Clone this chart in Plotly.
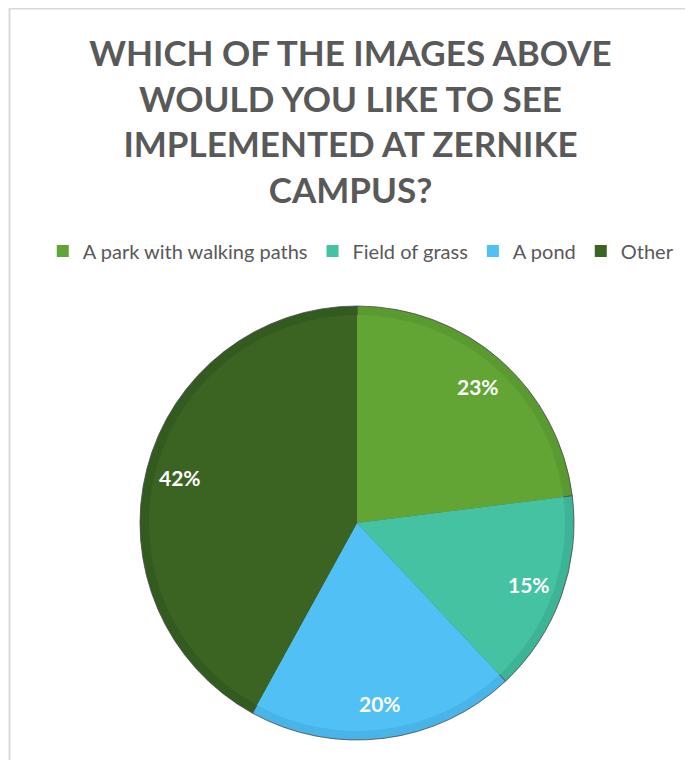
import math
import plotly.graph_objects as go

labels = ["A park with walking paths", "Field of grass", "A pond", "Other"]
values = [23, 15, 20, 42]
colors = ["#62A534", "#44C2A2", "#50C0F5", "#3B6423"]
edge_colors = ["#5A9A30", "#3DB495", "#48B4E8", "#345B1F"]

title_text = "WHICH OF THE IMAGES ABOVE<br>WOULD YOU LIKE TO SEE<br>IMPLEMENTED AT ZERNIKE<br>CAMPUS?"

# page has an 8px body margin, so the figure is drawn 8px in from the corner
W, H = 685, 752
cx, cy, R = 349, 515, 217  # pie centre / radius in px

def dom(r):
    return dict(x=[(cx - r) / W, (cx + r) / W], y=[1 - (cy + r) / H, 1 - (cy - r) / H])

fig = go.Figure()

# outer (darker rim)
fig.add_trace(go.Pie(
    labels=labels, values=values, sort=False, direction="clockwise", rotation=0,
    marker=dict(colors=edge_colors, line=dict(color="#4A4A4A", width=0.8)),
    textinfo="none", hoverinfo="skip", showlegend=False, domain=dom(R)
))

# inner face
fig.add_trace(go.Pie(
    labels=labels, values=values, sort=False, direction="clockwise", rotation=0,
    marker=dict(colors=colors, line=dict(width=0)),
    textinfo="none", showlegend=True, domain=dom(R - 9)
))

# percentage labels placed out toward the rim like Excel's best fit
total = sum(values)
cum = 0
for v in values:
    mid = (cum + v / 2) / total * 2 * math.pi
    cum += v
    r = 0.84 * R
    x = cx + r * math.sin(mid)
    y = cy - r * math.cos(mid)
    fig.add_annotation(
        x=x / W, y=1 - y / H, xref="paper", yref="paper",
        xanchor="center", yanchor="middle",
        text=f"<b>{round(v / total * 100)}%</b>", showarrow=False,
        font=dict(family="Lato", size=21, color="white")
    )

# chart border (partly cropped)
fig.add_shape(type="rect", xref="paper", yref="paper",
              x0=1.5 / W, x1=1.05, y0=-0.05, y1=1 - 0.5 / H,
              line=dict(color="#D9D9D9", width=2))

fig.update_layout(
    width=W, height=H,
    margin=dict(l=0, r=0, t=0, b=0),
    paper_bgcolor="white", plot_bgcolor="white",
    title=dict(text=f"<b>{title_text}</b>", x=0.5, xanchor="center",
               y=1 - 58 / H, yanchor="top",
               font=dict(family="Lato", size=35, color="#595959")),
    legend=dict(orientation="h", x=0.515, xanchor="center",
                y=1 - 243 / H, yanchor="middle",
                font=dict(family="Lato", size=20, color="#595959"),
                itemwidth=30, traceorder="normal"),
)

fig.write_html("out.html")
